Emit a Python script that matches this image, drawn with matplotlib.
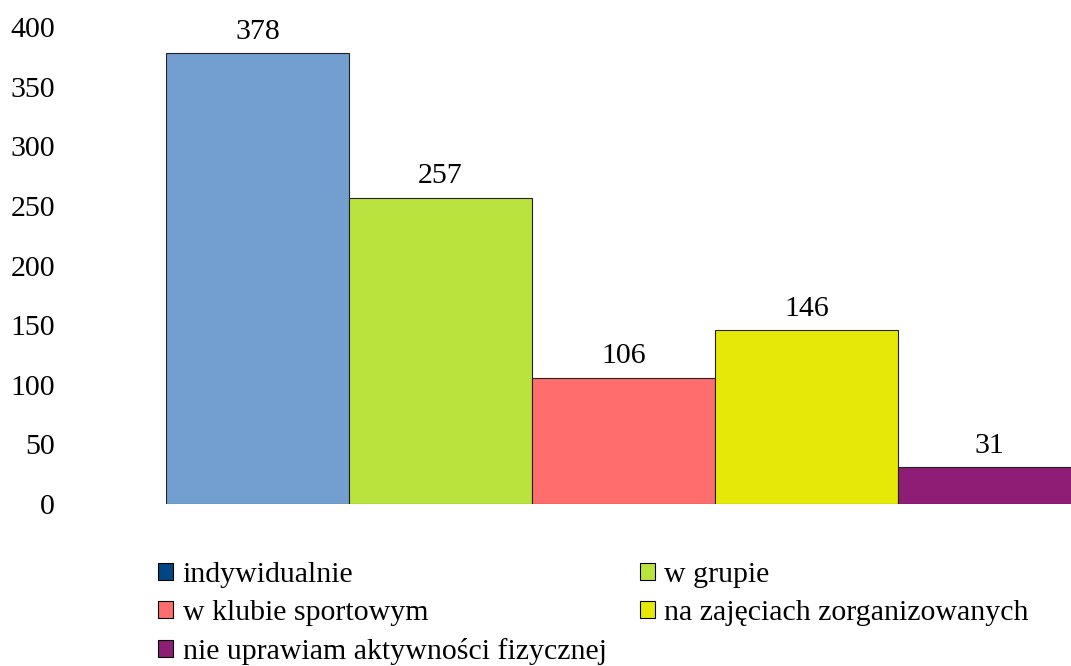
import matplotlib.pyplot as plt
from matplotlib.patches import Patch

categories = ["indywidualnie", "w grupie", "w klubie sportowym",
              "na zajęciach zorganizowanych", "nie uprawiam aktywności fizycznej"]
values = [378, 257, 106, 146, 31]
bar_colors = ["#729fcf", "#bbe33d", "#ff6d6d", "#e6e905", "#8d1d75"]
legend_colors = ["#004586", "#bbe33d", "#ff6d6d", "#e6e905", "#8d1d75"]
yticks = [0, 50, 100, 150, 200, 250, 300, 350, 400]

plt.rcParams["font.family"] = ["Liberation Serif", "DejaVu Serif"]
fs = 21.5

fig = plt.figure(figsize=(10.71, 6.66), dpi=100)
ax = fig.add_axes([166 / 1071, 1 - 504 / 666, 1 - 166 / 1071, 477 / 666])

x = range(len(values))
bars = ax.bar(x, values, width=1.0, color=bar_colors, edgecolor="#222222", linewidth=0.8)
ax.bar_label(bars, labels=[str(v) for v in values], padding=6, fontsize=fs)

ax.set_xlim(-0.5, 4.445)
ax.set_ylim(0, 400)
ax.set_yticks(yticks)
ax.set_yticklabels([str(t) for t in yticks], fontsize=fs)
ax.set_xticks([])
ax.tick_params(axis="y", length=0, pad=80)
for s in ["top", "right", "left", "bottom"]:
    ax.spines[s].set_visible(False)

# legend fills column by column, so reorder to match row-wise layout
order = [0, 2, 4, 1, 3]
handles = [Patch(facecolor=legend_colors[i], edgecolor="black", linewidth=0.8) for i in order]
labels = [categories[i] for i in order]
fig.legend(handles, labels, ncol=2, loc="upper left", bbox_to_anchor=(158 / 1071, 1 - 562 / 666),
           frameon=False, fontsize=fs, handlelength=0.5, handleheight=0.5,
           handletextpad=0.33, columnspacing=1.1, labelspacing=0.4, borderaxespad=0,
           borderpad=0)

plt.savefig("out.png", dpi=100)
